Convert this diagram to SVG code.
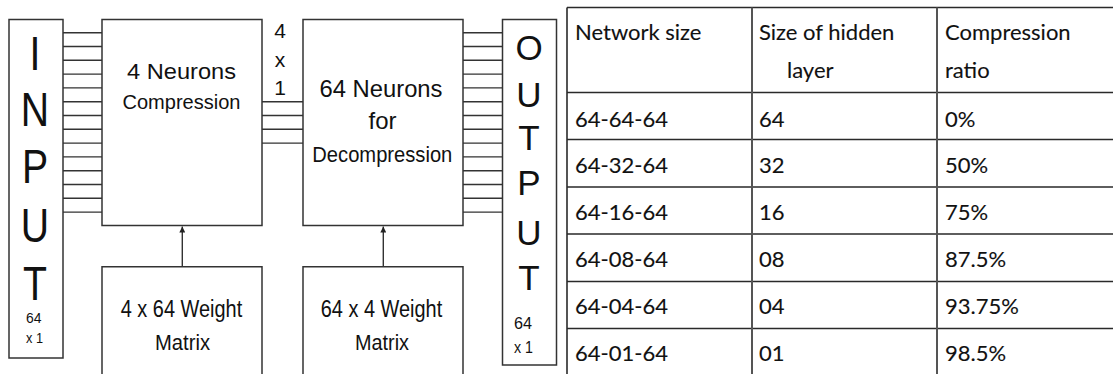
<svg xmlns="http://www.w3.org/2000/svg" width="1113" height="374" viewBox="0 0 1113 374">
  <style>
    .box { fill: #ffffff; stroke: #333333; stroke-width: 1.5; }
    .wire { stroke: #333333; stroke-width: 1.4; fill: none; }
    .lbl { font-family: "Liberation Sans", Arial, sans-serif; fill: #111111; }
    .big { font-family: "Liberation Sans", Arial, sans-serif; fill: #111111; text-anchor: middle; }
    .grid { stroke: #2a2a2a; stroke-width: 1.6; fill: none; }
    .col { stroke: #555555; stroke-width: 2; fill: none; }
    .cell { font-family: Lato, "Open Sans", sans-serif; font-size: 22px; fill: #111111; stroke: #111111; stroke-width: 0.12; }
  </style>
  <defs>
    <marker id="tip" viewBox="0 0 8 8" refX="8" refY="4" markerWidth="6" markerHeight="6" orient="auto" markerUnits="userSpaceOnUse">
      <path d="M0,0 L8,4 L0,8 z" fill="#222222"/>
    </marker>
  </defs>

  <rect x="0" y="0" width="1113" height="374" fill="#ffffff"/>

  <!-- input vector -->
  <g id="input">
    <rect class="box" x="9" y="19.5" width="54" height="338.5"/>
    <g transform="translate(35,0) scale(0.8,1)">
      <text class="big" x="0" y="70" font-size="49">I</text>
      <text class="big" x="0" y="126" font-size="49">N</text>
      <text class="big" x="0" y="183" font-size="49">P</text>
      <text class="big" x="0" y="242" font-size="49">U</text>
      <text class="big" x="0" y="300" font-size="49">T</text>
    </g>
    <text class="lbl" x="26" y="322.5" font-size="14" textLength="15.5" lengthAdjust="spacingAndGlyphs">64</text>
    <text class="lbl" x="26" y="342.5" font-size="14" textLength="17" lengthAdjust="spacingAndGlyphs">x 1</text>
  </g>

  <!-- compression layer -->
  <g id="compress">
    <rect class="box" x="102" y="19.5" width="160" height="206"/>
    <text class="big" x="181.5" y="79.3" font-size="22.5" textLength="109" lengthAdjust="spacingAndGlyphs">4 Neurons</text>
    <text class="big" x="181.5" y="109.3" font-size="21" textLength="118" lengthAdjust="spacingAndGlyphs">Compression</text>
  </g>

  <!-- encoder weights -->
  <g id="weights-enc">
    <path class="box" d="M102,380 V266.7 H262 V380"/>
    <text class="big" x="181.5" y="316.7" font-size="23" textLength="121.5" lengthAdjust="spacingAndGlyphs">4 x 64 Weight</text>
    <text class="big" x="182.5" y="350" font-size="22" textLength="55" lengthAdjust="spacingAndGlyphs">Matrix</text>
  </g>

  <!-- hidden vector size -->
  <g id="hidden-size">
    <text class="big" x="280" y="38.3" font-size="21">4</text>
    <text class="big" x="280" y="66.7" font-size="21">x</text>
    <text class="big" x="280" y="95" font-size="21">1</text>
  </g>

  <!-- decompression layer -->
  <g id="decompress">
    <rect class="box" x="303" y="19.5" width="160" height="206"/>
    <text class="big" x="381" y="96.7" font-size="24" textLength="123" lengthAdjust="spacingAndGlyphs">64 Neurons</text>
    <text class="big" x="382.5" y="129.3" font-size="24" textLength="28" lengthAdjust="spacingAndGlyphs">for</text>
    <text class="big" x="382.3" y="161.7" font-size="22" textLength="140" lengthAdjust="spacingAndGlyphs">Decompression</text>
  </g>

  <!-- decoder weights -->
  <g id="weights-dec">
    <path class="box" d="M303,380 V266.7 H463 V380"/>
    <text class="big" x="381.5" y="316.7" font-size="23" textLength="121.5" lengthAdjust="spacingAndGlyphs">64 x 4 Weight</text>
    <text class="big" x="382" y="350" font-size="22" textLength="54" lengthAdjust="spacingAndGlyphs">Matrix</text>
  </g>

  <!-- output vector -->
  <g id="output">
    <rect class="box" x="502.5" y="19.5" width="54" height="345.5"/>
    <text class="big" x="529" y="60" font-size="35">O</text>
    <text class="big" x="529" y="106.5" font-size="35">U</text>
    <text class="big" x="529" y="150" font-size="35">T</text>
    <text class="big" x="529" y="195" font-size="35">P</text>
    <text class="big" x="529" y="244.5" font-size="35">U</text>
    <text class="big" x="529" y="290" font-size="35">T</text>
    <text class="lbl" x="514" y="329.3" font-size="16" textLength="18" lengthAdjust="spacingAndGlyphs">64</text>
    <text class="lbl" x="514" y="353.3" font-size="16" textLength="19" lengthAdjust="spacingAndGlyphs">x 1</text>
  </g>

  <!-- connectors: 64 input wires, 4 hidden wires, 64 output wires, weight feeds -->
  <g id="connectors">
    <path class="wire" d="M63,32.7H102 M63,46.5H102 M63,60.3H102 M63,74.1H102 M63,87.9H102 M63,101.7H102 M63,115.5H102 M63,129.3H102 M63,143.1H102 M63,156.9H102 M63,170.7H102 M63,184.5H102 M63,198.3H102 M63,212.1H102"/>
    <path class="wire" d="M262,101.7H303 M262,115.5H303 M262,129.3H303 M262,143.1H303"/>
    <path class="wire" d="M463,32.7H502.5 M463,46.5H502.5 M463,60.3H502.5 M463,74.1H502.5 M463,87.9H502.5 M463,101.7H502.5 M463,115.5H502.5 M463,129.3H502.5 M463,143.1H502.5 M463,156.9H502.5 M463,170.7H502.5 M463,184.5H502.5 M463,198.3H502.5 M463,212.1H502.5"/>
    <line class="wire" x1="182.3" y1="266.7" x2="182.3" y2="226.5" marker-end="url(#tip)"/>
    <line class="wire" x1="383.3" y1="266.7" x2="383.3" y2="226.5" marker-end="url(#tip)"/>
  </g>

  <!-- results table -->
  <g id="table">
    <path class="grid" d="M567,7.5H1113 M567,92.5H1113 M567,139.5H1113 M567,187H1113 M567,234H1113 M567,281.5H1113 M567,328.5H1113"/>
    <path class="grid" d="M567,7.5V374"/>
    <path class="col" d="M752,7.5V374 M937,7.5V374"/>

    <text class="cell" x="575" y="40">Network size</text>
    <text class="cell" x="759" y="40">Size of hidden</text>
    <text class="cell" x="787" y="78">layer</text>
    <text class="cell" x="945" y="40">Compression</text>
    <text class="cell" x="945" y="78">ratio</text>

    <text class="cell" x="575" y="126.7">64-64-64</text>
    <text class="cell" x="759" y="126.7">64</text>
    <text class="cell" x="945" y="126.7">0%</text>

    <text class="cell" x="575" y="173.3">64-32-64</text>
    <text class="cell" x="759" y="173.3">32</text>
    <text class="cell" x="945" y="173.3">50%</text>

    <text class="cell" x="575" y="220">64-16-64</text>
    <text class="cell" x="759" y="220">16</text>
    <text class="cell" x="945" y="220">75%</text>

    <text class="cell" x="575" y="267.3">64-08-64</text>
    <text class="cell" x="759" y="267.3">08</text>
    <text class="cell" x="945" y="267.3">87.5%</text>

    <text class="cell" x="575" y="314.3">64-04-64</text>
    <text class="cell" x="759" y="314.3">04</text>
    <text class="cell" x="945" y="314.3">93.75%</text>

    <text class="cell" x="575" y="361">64-01-64</text>
    <text class="cell" x="759" y="361">01</text>
    <text class="cell" x="945" y="361">98.5%</text>
  </g>
</svg>
